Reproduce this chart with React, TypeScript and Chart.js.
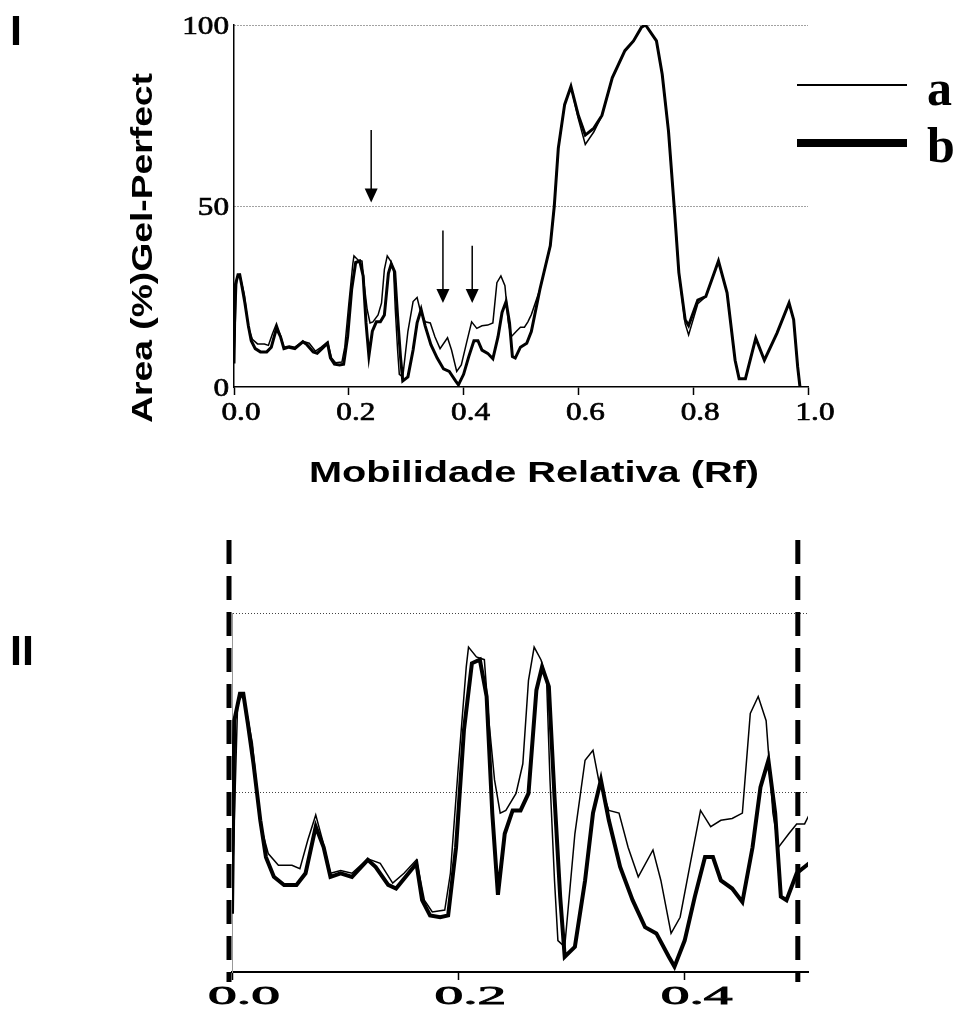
import React, { useEffect, useRef } from 'react';
import { Chart, registerables } from 'chart.js';

Chart.register(...registerables);

// ---- data ----
const rfA = [
  0, 0.005, 0.01, 0.018, 0.025, 0.032, 0.041, 0.053, 0.06, 0.067, 0.074, 0.08, 0.087, 0.096, 0.106,
  0.12, 0.131, 0.142, 0.152, 0.163, 0.17, 0.177, 0.188, 0.193, 0.2, 0.207, 0.209, 0.216, 0.223, 0.227,
  0.232, 0.237, 0.242, 0.251, 0.257, 0.262, 0.267, 0.273, 0.278, 0.281, 0.285, 0.288, 0.294, 0.303,
  0.312, 0.319, 0.324, 0.333, 0.342, 0.35, 0.359, 0.372, 0.379, 0.388, 0.396, 0.405, 0.414, 0.423,
  0.432, 0.442, 0.451, 0.458, 0.465, 0.472, 0.478, 0.483, 0.492, 0.499, 0.506, 0.512, 0.518, 0.533,
  0.551, 0.558, 0.565, 0.576, 0.587, 0.6, 0.612, 0.627, 0.641, 0.659, 0.681, 0.696, 0.71, 0.717,
  0.736, 0.746, 0.757, 0.768, 0.775, 0.786, 0.792, 0.808, 0.822, 0.844, 0.859, 0.873, 0.88, 0.891,
  0.909, 0.924, 0.946, 0.967, 0.975, 0.982, 0.986,
];
const areaA = [
  8, 30, 31, 25.5, 16.5, 13.2, 11.9, 11.9, 11.5, 14.7, 17.5, 14.7, 11, 11.3, 11,
  12.6, 12.1, 9.9, 11, 12.5, 8, 6.7, 6.9, 11, 22.9, 34, 36.2, 35.1, 34.8, 28,
  21.4, 17.7, 18, 19.9, 23.2, 32.5, 36.2, 34.8, 32.5, 21.4, 10.2, 3.5, 2.8, 15.4,
  23.6, 24.7, 21.4, 18, 17.7, 13.9, 10.6, 13.6, 10.2, 4.3, 6.1, 12.1, 18, 16.2,
  16.9, 17.1, 17.7, 28.8, 30.7, 28, 17.7, 13.9, 15.4, 16.5, 16.5, 18, 20, 27,
  39, 50, 66, 78, 83, 74, 67, 70.5, 75, 85.4, 92.9, 95.6, 99.4, 100,
  95.6, 86.4, 70.6, 47.4, 31.6, 17.5, 14.4, 23, 25, 34.8, 26, 7.4, 2.3, 2.3,
  13.5, 7.4, 14.9, 23.2, 18.6, 5.6, 0,
];
const rfB = [
  0, 0.002, 0.007, 0.01, 0.014, 0.019, 0.025, 0.03, 0.037, 0.046, 0.057, 0.065, 0.074, 0.081, 0.087,
  0.096, 0.106, 0.12, 0.127, 0.138, 0.145, 0.156, 0.163, 0.168, 0.175, 0.184, 0.191, 0.198, 0.205,
  0.212, 0.219, 0.225, 0.23, 0.235, 0.241, 0.248, 0.255, 0.262, 0.269, 0.274, 0.28, 0.285, 0.29,
  0.294, 0.303, 0.312, 0.319, 0.326, 0.333, 0.343, 0.354, 0.365, 0.375, 0.386, 0.391, 0.4, 0.409,
  0.418, 0.425, 0.432, 0.442, 0.451, 0.46, 0.467, 0.474, 0.48, 0.485, 0.49, 0.499, 0.51, 0.518,
  0.533, 0.551, 0.558, 0.565, 0.576, 0.587, 0.6, 0.612, 0.627, 0.641, 0.659, 0.681, 0.696, 0.71,
  0.717, 0.736, 0.746, 0.757, 0.768, 0.775, 0.786, 0.792, 0.808, 0.822, 0.844, 0.859, 0.873, 0.88,
  0.891, 0.909, 0.924, 0.946, 0.967, 0.975, 0.982, 0.986,
];
const areaB = [
  6.5, 28, 31, 31, 27.7, 23.2, 16.9, 12.8, 10.6, 9.7, 9.7, 11, 16.2, 13.9, 10.6,
  11, 10.6, 12.5, 11.7, 9.7, 9.3, 11, 12.1, 8, 6.3, 6.1, 6.3, 13.9, 27,
  34.4, 34.8, 30.7, 17.7, 8.6, 15.4, 18, 18, 19.9, 31.4, 34, 31.8, 19.5, 8.4,
  1.7, 2.8, 10.2, 17.7, 21.4, 16.9, 11.7, 8, 5, 4.3, 1.7, 0.6, 3.5, 8.4,
  12.8, 12.8, 10.2, 9.3, 7.8, 13.9, 20.6, 23.6, 17.7, 8.4, 8, 11, 12.1, 15.3,
  27, 39, 50, 66, 78, 83, 75, 69.6, 71.5, 75, 85.4, 92.9, 95.6, 99.4,
  100, 95.6, 86.4, 70.6, 47.4, 31.6, 18.6, 17, 24, 25, 34.8, 26, 7.4, 2.3,
  2.3, 13.5, 7.4, 14.9, 23.2, 18.6, 5.6, 0,
];

const seriesLabels = ['a', 'b'];
const arrowRf = [0.239, 0.364, 0.415];
const arrowFrom = [71, 43.2, 39];
const arrowTo = [51, 23.2, 23.2];
const zoomMarks = [0, 0.5];
const xTitle = 'Mobilidade Relativa (Rf)';
const yTitle = 'Area (%)Gel-Perfect';
const panelLabels = ['I', 'II'];

// ---- helpers ----
function txt(ctx: CanvasRenderingContext2D, s: string, x: number, y: number, font: string, o: any = {}) {
  ctx.save();
  ctx.font = font;
  let sx = o.sx ?? 1;
  if (o.width) sx = o.width / ctx.measureText(s).width;
  ctx.translate(x, y);
  if (o.rot) ctx.rotate(o.rot);
  ctx.scale(sx, 1);
  ctx.textAlign = o.align || 'left';
  ctx.textBaseline = o.baseline || 'alphabetic';
  ctx.fillStyle = o.color || '#000';
  ctx.fillText(s, 0, 0);
  if (o.stroke) {
    ctx.strokeStyle = o.color || '#000';
    ctx.lineWidth = o.stroke;
    ctx.strokeText(s, 0, 0);
  }
  ctx.restore();
}

const pts = (xs: number[], ys: number[]) => xs.map((v, i) => ({ x: v, y: ys[i] }));

const tickFontTop = "26px 'Liberation Serif'";
const tickFontBottom = "25px 'Liberation Serif'";

const topPlugin = {
  id: 'topDecor',
  afterDraw(chart: any) {
    const { ctx } = chart;
    const xs = chart.scales.x;
    const ys = chart.scales.y;
    // tick labels
    ys.ticks.forEach((t: any) => {
      txt(ctx, String(t.value), xs.left - 5, ys.getPixelForValue(t.value) + 2, tickFontTop, { sx: 1.2, align: 'right', baseline: 'middle', stroke: 0.7 });
    });
    xs.ticks.forEach((t: any) => {
      txt(ctx, t.value.toFixed(1), xs.getPixelForValue(t.value) + 7, ys.bottom + 26, tickFontTop, { sx: 1.2, align: 'center', baseline: 'middle', stroke: 0.7 });
    });
    // arrows
    ctx.save();
    ctx.strokeStyle = '#000';
    ctx.fillStyle = '#000';
    ctx.lineWidth = 1.5;
    arrowRf.forEach((r, i) => {
      const px = xs.getPixelForValue(r);
      const y1 = ys.getPixelForValue(arrowFrom[i]);
      const y2 = ys.getPixelForValue(arrowTo[i]);
      ctx.beginPath();
      ctx.moveTo(px, y1);
      ctx.lineTo(px, y2 - 10);
      ctx.stroke();
      ctx.beginPath();
      ctx.moveTo(px - 6.5, y2 - 14);
      ctx.lineTo(px + 6.5, y2 - 14);
      ctx.lineTo(px, y2);
      ctx.closePath();
      ctx.fill();
    });
    // legend
    ctx.beginPath();
    ctx.lineWidth = 2;
    ctx.moveTo(797, 85);
    ctx.lineTo(907, 85);
    ctx.stroke();
    ctx.beginPath();
    ctx.lineWidth = 8;
    ctx.moveTo(797, 143);
    ctx.lineTo(907, 143);
    ctx.stroke();
    ctx.restore();
    txt(ctx, seriesLabels[0], 927, 105, "bold 50px 'Liberation Serif'");
    txt(ctx, seriesLabels[1], 927, 162, "bold 50px 'Liberation Serif'");
    // titles
    txt(ctx, xTitle, (xs.left + xs.right) / 2 + 13, 482, "bold 30px 'Liberation Sans'", { width: 450, align: 'center' });
    txt(ctx, yTitle, 152, 248, "bold 30px 'Liberation Sans'", { width: 350, align: 'center', rot: -Math.PI / 2 });
    txt(ctx, panelLabels[0], 10, 45, "bold 43px 'Liberation Sans'");
  },
};

const bottomPlugin = {
  id: 'bottomDecor',
  afterDraw(chart: any) {
    const { ctx } = chart;
    const xs = chart.scales.x;
    const ys = chart.scales.y;
    xs.ticks.forEach((t: any) => {
      txt(ctx, t.value.toFixed(1), xs.getPixelForValue(t.value) + 12, ys.bottom + 25, tickFontBottom, { sx: 2.3, align: 'center', baseline: 'middle', stroke: 0.8 });
    });
    ctx.save();
    ctx.strokeStyle = '#000';
    ctx.lineWidth = 5;
    ctx.setLineDash([24, 12]);
    zoomMarks.forEach((m) => {
      const px = xs.getPixelForValue(m) - (m === 0 ? 3 : 0);
      ctx.beginPath();
      ctx.moveTo(px, 10);
      ctx.lineTo(px, ys.bottom + 10);
      ctx.stroke();
    });
    ctx.restore();
    txt(ctx, panelLabels[1], 10, 135, "bold 43px 'Liberation Sans'");
  },
};

function makeDatasets(wa: number, wb: number) {
  return [
    { label: seriesLabels[1], data: pts(rfB, areaB), borderColor: '#000', backgroundColor: '#000', borderWidth: wb, pointRadius: 0, tension: 0, fill: false },
    { label: seriesLabels[0], data: pts(rfA, areaA), borderColor: '#000', backgroundColor: '#000', borderWidth: wa, pointRadius: 0, tension: 0, fill: false },
  ];
}

export default function App() {
  const c1 = useRef<HTMLCanvasElement>(null);
  const c2 = useRef<HTMLCanvasElement>(null);

  useEffect(() => {
    const top = new Chart(c1.current!, {
      type: 'line',
      data: { datasets: makeDatasets(1.5, 3) as any },
      options: {
        responsive: false,
        animation: false,
        devicePixelRatio: 1,
        layout: { padding: { left: 0, right: 150, top: 25, bottom: 0 } },
        plugins: { legend: { display: false }, tooltip: { enabled: false } },
        scales: {
          x: {
            type: 'linear', min: 0, max: 1,
            ticks: { stepSize: 0.2, display: false },
            grid: { drawOnChartArea: false, drawTicks: true, tickLength: 8, tickColor: '#000', tickWidth: 1.5 },
            border: { color: '#000', width: 1.5 },
            afterFit: (s: any) => { s.height = 143; },
          },
          y: {
            type: 'linear', min: 0, max: 100,
            ticks: { stepSize: 50, display: false },
            grid: { drawTicks: false, color: (c: any) => (c.tick && c.tick.value === 0 ? 'rgba(0,0,0,0)' : '#444'), lineWidth: 1 },
            border: { color: '#000', width: 1.5, dash: [1, 2] },
            afterFit: (s: any) => { s.width = 234; },
          },
        },
      } as any,
      plugins: [topPlugin],
    });

    const bottom = new Chart(c2.current!, {
      type: 'line',
      data: { datasets: makeDatasets(1.5, 4) as any },
      options: {
        responsive: false,
        animation: false,
        devicePixelRatio: 1,
        layout: { padding: { left: 0, right: 150, top: 83, bottom: 0 } },
        plugins: { legend: { display: false }, tooltip: { enabled: false } },
        scales: {
          x: {
            type: 'linear', min: 0, max: 0.509,
            ticks: { stepSize: 0.2, display: false, includeBounds: false },
            grid: { drawOnChartArea: false, drawTicks: true, tickLength: 8, tickColor: '#000', tickWidth: 1.5 },
            border: { color: '#000', width: 2 },
            afterFit: (s: any) => { s.height = 37; },
          },
          y: {
            type: 'linear', min: 0, max: 40,
            ticks: { stepSize: 20, display: false },
            grid: { drawTicks: false, color: (c: any) => (c.tick && c.tick.value === 0 ? 'rgba(0,0,0,0)' : '#444'), lineWidth: 1 },
            border: { color: '#999', width: 1, dash: [1, 2] },
            afterFit: (s: any) => { s.width = 232; },
          },
        },
      } as any,
      plugins: [bottomPlugin],
    });

    return () => {
      top.destroy();
      bottom.destroy();
    };
  }, []);

  return (
    <div style={{ position: 'absolute', left: 0, top: 0, width: 958, height: 1009, background: '#fff' }}>
      <canvas ref={c1} width={958} height={530} style={{ position: 'absolute', left: 0, top: 0, display: 'block' }} />
      <canvas ref={c2} width={958} height={479} style={{ position: 'absolute', left: 0, top: 530, display: 'block' }} />
    </div>
  );
}
